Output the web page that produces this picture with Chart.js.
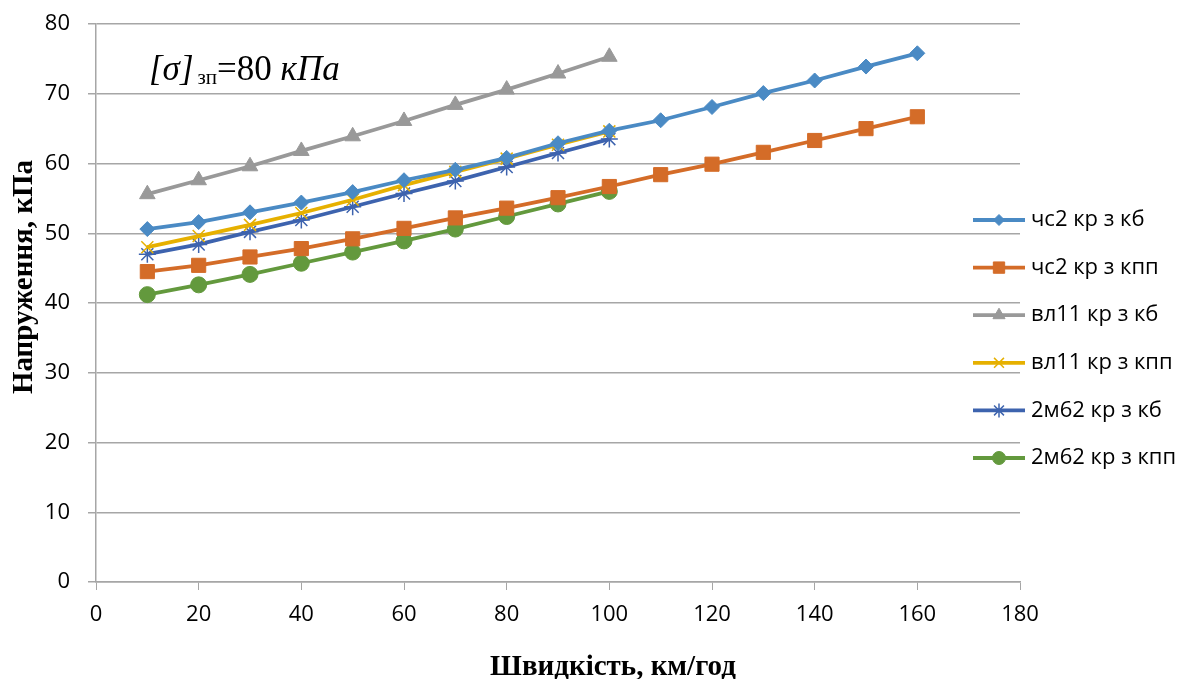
<!DOCTYPE html>
<html>
<head>
<meta charset="utf-8">
<script src="https://cdn.jsdelivr.net/npm/chart.js@4/dist/chart.umd.min.js"></script>
<style>
  html, body { margin: 0; padding: 0; background: #fff; }
</style>
</head>
<body>
<canvas id="stressChart" width="1188" height="679"></canvas>
<script>
// speeds, km/h
const speedsLong = [10, 20, 30, 40, 50, 60, 70, 80, 90, 100, 110, 120, 130, 140, 150, 160]
const speedsShort = [10, 20, 30, 40, 50, 60, 70, 80, 90, 100]

// stresses, kPa
const chs2Kb = [50.6, 51.6, 53.0, 54.4, 55.9, 57.6, 59.1, 60.8, 62.9, 64.7, 66.2, 68.1, 70.1, 71.9, 73.9, 75.8]
const chs2Kpp = [44.5, 45.4, 46.6, 47.8, 49.2, 50.7, 52.2, 53.6, 55.1, 56.7, 58.4, 59.9, 61.6, 63.3, 65.0, 66.7]
const vl11Kb = [55.6, 57.6, 59.6, 61.8, 63.9, 66.1, 68.4, 70.6, 72.9, 75.3]
const vl11Kpp = [48.0, 49.6, 51.2, 52.9, 54.8, 56.9, 58.8, 60.7, 62.7, 64.6]
const m62Kb = [47.0, 48.4, 50.2, 51.9, 53.8, 55.7, 57.5, 59.5, 61.5, 63.5]
const m62Kpp = [41.2, 42.6, 44.1, 45.7, 47.3, 48.9, 50.6, 52.4, 54.2, 56.0]

const seriesLabels = ['чс2 кр з кб', 'чс2 кр з кпп', 'вл11 кр з кб', 'вл11 кр з кпп', '2м62 кр з кб', '2м62 кр з кпп']
const seriesColors = ['#4a8ac4', '#d46c28', '#999999', '#e6b000', '#3d63ae', '#63993d']

const xTicks = [0, 20, 40, 60, 80, 100, 120, 140, 160, 180]
const yTicks = [0, 10, 20, 30, 40, 50, 60, 70, 80]

function toPoints(xs, ys) {
  return ys.map((y, i) => ({x: xs[i], y}))
}

function makeSet(i, xs, ys, style, radius, bw, legendRadius) {
  return {
    label: seriesLabels[i],
    data: toPoints(xs, ys),
    borderColor: seriesColors[i],
    backgroundColor: seriesColors[i],
    borderWidth: 3.8,
    pointStyle: style,
    pointRadius: radius,
    pointBorderWidth: bw,
    pointBorderColor: seriesColors[i],
    pointBackgroundColor: seriesColors[i],
    legendRadius,
    tension: 0
  }
}

const datasets = [
  makeSet(0, speedsLong, chs2Kb, 'rectRot', 7.5, 1, 5.5),
  makeSet(1, speedsLong, chs2Kpp, 'rect', 10, 1, 8),
  makeSet(2, speedsShort, vl11Kb, 'triangle', 9, 1, 7),
  makeSet(3, speedsShort, vl11Kpp, 'crossRot', 8.5, 1.5, 7),
  makeSet(4, speedsShort, m62Kb, 'star', 8.5, 1.5, 7),
  makeSet(5, speedsShort, m62Kpp, 'circle', 8, 1, 6.5)
]

// legend, axis titles and the note are drawn here
const extras = {
  id: 'extras',
  afterDraw(chart) {
    const ctx = chart.ctx
    ctx.save()

    // legend: line with marker, then text
    const legendTop = 220, legendStep = 47.6
    chart.data.datasets.forEach((ds, i) => {
      const y = legendTop + i * legendStep
      ctx.strokeStyle = ds.borderColor
      ctx.lineWidth = 3.8
      ctx.beginPath()
      ctx.moveTo(973, y)
      ctx.lineTo(1025, y)
      ctx.stroke()
      ctx.fillStyle = ds.borderColor
      ctx.strokeStyle = ds.borderColor
      ctx.lineWidth = ds.pointBorderWidth
      Chart.helpers.drawPoint(ctx, {
        pointStyle: ds.pointStyle,
        radius: ds.legendRadius,
        borderWidth: ds.pointBorderWidth,
        rotation: 0
      }, 999, y)
      ctx.fillStyle = '#000'
      ctx.font = '22px "Open Sans"'
      ctx.textAlign = 'left'
      ctx.textBaseline = 'middle'
      ctx.fillText(ds.label, 1031, y)
    })

    // axis titles
    ctx.fillStyle = '#000'
    ctx.font = 'bold 29px "Liberation Serif"'
    ctx.textAlign = 'center'
    ctx.textBaseline = 'alphabetic'
    ctx.fillText('Швидкість, км/год', 613, 675)
    ctx.save()
    ctx.translate(32, 277)
    ctx.rotate(-Math.PI / 2)
    ctx.fillText('Напруження, кПа', 0, 0)
    ctx.restore()

    // note about allowed stress
    ctx.textAlign = 'left'
    let x = 149
    const base = 80
    ctx.font = 'italic 35px "Liberation Serif"'
    ctx.fillText('[σ]', x, base)
    x += ctx.measureText('[σ]').width + 4
    ctx.font = '21px "Liberation Serif"'
    ctx.fillText('зп', x, base + 4)
    x += ctx.measureText('зп').width
    ctx.font = '35px "Liberation Serif"'
    ctx.fillText('=80 ', x, base)
    x += ctx.measureText('=80 ').width
    ctx.font = 'italic 35px "Liberation Serif"'
    ctx.fillText('кПа', x, base)

    ctx.restore()
  }
}

const ctx = document.getElementById('stressChart').getContext('2d')
new Chart(ctx, {
  type: 'line',
  data: {datasets},
  options: {
    responsive: false,
    animation: false,
    layout: {padding: {left: 0, right: 168, top: 24, bottom: 0}},
    plugins: {
      legend: {display: false},
      tooltip: {enabled: false}
    },
    scales: {
      x: {
        type: 'linear',
        min: 0,
        max: 180,
        afterFit: (s) => { s.height = 97; s.paddingLeft = 0; s.paddingRight = 0 },
        afterBuildTicks: (s) => { s.ticks = xTicks.map(v => ({value: v})) },
        grid: {display: true, drawOnChartArea: false, color: '#a6a6a6', tickLength: 8},
        border: {color: '#a6a6a6', width: 1.5},
        ticks: {color: '#000', font: {family: '"Open Sans"', size: 22}, padding: 12, maxRotation: 0}
      },
      y: {
        min: 0,
        max: 80,
        afterFit: (s) => { s.width = 96; s.paddingTop = 0; s.paddingBottom = 0 },
        afterBuildTicks: (s) => { s.ticks = yTicks.map(v => ({value: v})) },
        grid: {color: '#a6a6a6', lineWidth: 1.5, tickLength: 8},
        border: {color: '#a6a6a6', width: 1.5},
        ticks: {color: '#000', font: {family: '"Open Sans"', size: 22}, padding: 18}
      }
    }
  },
  plugins: [extras]
})
</script>
</body>
</html>
